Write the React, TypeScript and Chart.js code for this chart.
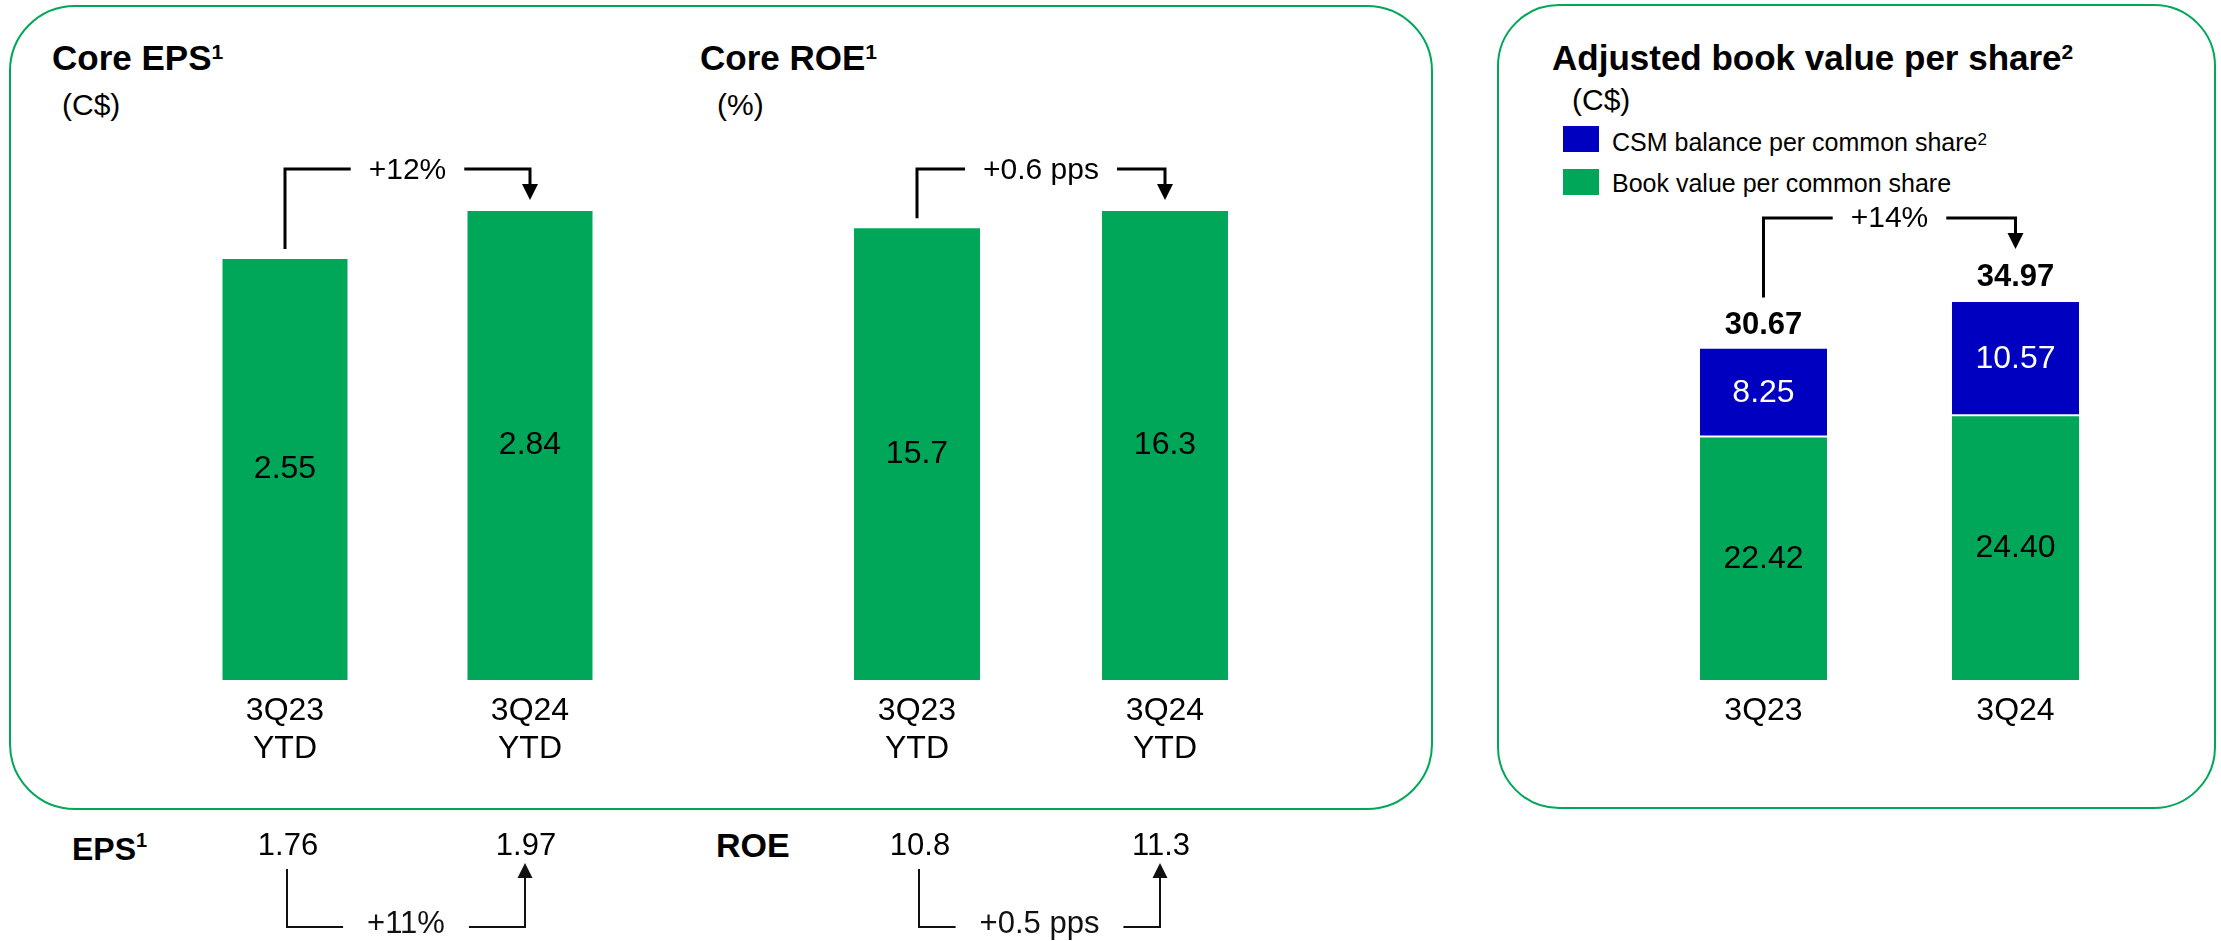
import React, { useEffect, useRef } from 'react';
import Chart from 'chart.js/auto';

// ---------- data ----------
const ytdCategories = [['3Q23', 'YTD'], ['3Q24', 'YTD']];
const coreEps = [2.55, 2.84];
const coreRoe = [15.7, 16.3];
const reportedEps = [1.76, 1.97];
const reportedRoe = [10.8, 11.3];
const coreEpsChange = '+12%';
const coreRoeChange = '+0.6 pps';
const epsChange = '+11%';
const roeChange = '+0.5 pps';

const bvpsCategories = ['3Q23', '3Q24'];
const bookValuePerShare = [22.42, 24.4];
const csmPerShare = [8.25, 10.57];
const adjustedBvps = [30.67, 34.97];
const bvpsChange = '+14%';
const seriesNames = ['CSM balance per common share', 'Book value per common share'];

// ---------- style ----------
const FONT = '"Liberation Sans", Arial, Helvetica, sans-serif';
const GREEN = '#00A758';
const BLUE = '#0000C1';
const W = 2221;
const H = 941;
const PLOT_TOP = 180;
const PLOT_BOTTOM = 680;
const AXIS_H = 90;

type Bracket = {
  x1: number; y1: number; x2: number; y2: number; yLine: number;
  text: string; textDy: number; lw: number; color: string; gap: number;
  head: number; headW: number; font: string; textDx?: number;
};

function drawBracket(ctx: CanvasRenderingContext2D, o: Bracket) {
  ctx.save();
  ctx.font = o.font;
  const tw = ctx.measureText(o.text).width;
  const cx = (o.x1 + o.x2) / 2 + (o.textDx || 0);
  const dir = o.y2 > o.yLine ? 1 : -1;
  ctx.strokeStyle = o.color;
  ctx.lineWidth = o.lw;
  ctx.lineJoin = 'miter';
  ctx.lineCap = 'butt';
  ctx.beginPath();
  ctx.moveTo(o.x1, o.y1);
  ctx.lineTo(o.x1, o.yLine);
  ctx.lineTo(cx - tw / 2 - o.gap, o.yLine);
  ctx.moveTo(cx + tw / 2 + o.gap, o.yLine);
  ctx.lineTo(o.x2, o.yLine);
  ctx.lineTo(o.x2, o.y2 - dir * o.head + dir);
  ctx.stroke();
  ctx.fillStyle = o.color;
  ctx.beginPath();
  ctx.moveTo(o.x2, o.y2);
  ctx.lineTo(o.x2 - o.headW / 2, o.y2 - dir * o.head);
  ctx.lineTo(o.x2 + o.headW / 2, o.y2 - dir * o.head);
  ctx.closePath();
  ctx.fill();
  ctx.textAlign = 'center';
  ctx.textBaseline = 'middle';
  ctx.fillText(o.text, cx, o.yLine + o.textDy);
  ctx.restore();
}

function drawBarValues(chart: any, di: number, color: string, digits: number) {
  const ctx = chart.ctx as CanvasRenderingContext2D;
  const meta = chart.getDatasetMeta(di);
  const data = chart.data.datasets[di].data as number[];
  ctx.save();
  ctx.font = `32px ${FONT}`;
  ctx.fillStyle = color;
  ctx.textAlign = 'center';
  ctx.textBaseline = 'middle';
  meta.data.forEach((bar: any, i: number) => {
    const p = bar.getProps(['x', 'y', 'base'], true);
    ctx.fillText(data[i].toFixed(digits), p.x, (p.y + p.base) / 2);
  });
  ctx.restore();
}

const topStyle = {
  lw: 3, color: '#000', gap: 18, head: 16, headW: 16, font: `30px ${FONT}`,
};

function drawBottomRow(ctx: CanvasRenderingContext2D, x1: number, x2: number, values: string[], change: string) {
  ctx.save();
  ctx.font = `31px ${FONT}`;
  ctx.fillStyle = '#000';
  ctx.textAlign = 'center';
  ctx.textBaseline = 'middle';
  ctx.fillText(values[0], x1 + 3, 846);
  ctx.fillText(values[1], x2 - 4, 846);
  ctx.restore();
  drawBracket(ctx, {
    x1: x1 + 2, y1: 869, x2: x2 - 5, y2: 863, yLine: 927,
    text: change, textDy: -3, lw: 2, color: '#111', gap: 24, head: 15, headW: 15,
    font: `31px ${FONT}`,
  });
}

function baseConfig(labels: any[], datasets: any[], yMax: number, left: number, width: number, plugin: any): any {
  return {
    type: 'bar',
    data: { labels, datasets },
    options: {
      responsive: false,
      animation: false,
      devicePixelRatio: 1,
      events: [],
      layout: {
        padding: { left, right: W - left - width, top: PLOT_TOP, bottom: H - PLOT_BOTTOM - AXIS_H },
      },
      plugins: { legend: { display: false }, tooltip: { enabled: false }, title: { display: false } },
      scales: {
        x: {
          stacked: true,
          grid: { display: false, drawTicks: false },
          border: { display: false },
          ticks: {
            color: '#000',
            font: { family: FONT, size: 32, lineHeight: 1.2 },
            padding: 12,
            maxRotation: 0,
            minRotation: 0,
            autoSkip: false,
          },
          afterFit: (s: any) => { s.height = AXIS_H; },
        },
        y: { stacked: true, display: false, min: 0, max: yMax },
      },
    },
    plugins: [plugin],
  };
}

const epsPlugin = {
  id: 'epsDecor',
  afterDatasetsDraw(chart: any) {
    const ctx = chart.ctx as CanvasRenderingContext2D;
    drawBarValues(chart, 0, '#000', 2);
    const xs = chart.scales.x, ys = chart.scales.y;
    const x1 = xs.getPixelForValue(0), x2 = xs.getPixelForValue(1);
    const t1 = ys.getPixelForValue(coreEps[0]), t2 = ys.getPixelForValue(coreEps[1]);
    drawBracket(ctx, { x1, y1: t1 - 10, x2, y2: t2 - 11, yLine: Math.min(t1, t2) - 42, text: coreEpsChange, textDy: 2, ...topStyle });
    drawBottomRow(ctx, x1, x2, reportedEps.map((v) => v.toFixed(2)), epsChange);
  },
};

const roePlugin = {
  id: 'roeDecor',
  afterDatasetsDraw(chart: any) {
    const ctx = chart.ctx as CanvasRenderingContext2D;
    drawBarValues(chart, 0, '#000', 1);
    const xs = chart.scales.x, ys = chart.scales.y;
    const x1 = xs.getPixelForValue(0), x2 = xs.getPixelForValue(1);
    const t1 = ys.getPixelForValue(coreRoe[0]), t2 = ys.getPixelForValue(coreRoe[1]);
    drawBracket(ctx, { x1, y1: t1 - 10, x2, y2: t2 - 11, yLine: Math.min(t1, t2) - 42, text: coreRoeChange, textDy: 2, ...topStyle });
    drawBottomRow(ctx, x1, x2, reportedRoe.map((v) => v.toFixed(1)), roeChange);
  },
};

const bvPlugin = {
  id: 'bvDecor',
  afterDatasetsDraw(chart: any) {
    const ctx = chart.ctx as CanvasRenderingContext2D;
    drawBarValues(chart, 0, '#000', 2);
    drawBarValues(chart, 1, '#fff', 2);
    const xs = chart.scales.x, ys = chart.scales.y;
    const x1 = xs.getPixelForValue(0), x2 = xs.getPixelForValue(1);
    const t1 = ys.getPixelForValue(adjustedBvps[0]), t2 = ys.getPixelForValue(adjustedBvps[1]);
    ctx.save();
    ctx.font = `bold 31px ${FONT}`;
    ctx.fillStyle = '#000';
    ctx.textAlign = 'center';
    ctx.textBaseline = 'middle';
    ctx.fillText(adjustedBvps[0].toFixed(2), x1, t1 - 23);
    ctx.fillText(adjustedBvps[1].toFixed(2), x2, t2 - 24);
    ctx.restore();
    drawBracket(ctx, { x1, y1: t1 - 51, x2, y2: t2 - 53, yLine: t2 - 84, text: bvpsChange, textDy: 1, ...topStyle });
  },
};

function epsConfig() {
  return baseConfig(ytdCategories, [
    { label: 'Core EPS', data: coreEps, backgroundColor: GREEN, borderWidth: 0, barPercentage: 1, categoryPercentage: 0.5102 },
  ], 3.028, 162.5, 490, epsPlugin);
}

function roeConfig() {
  return baseConfig(ytdCategories, [
    { label: 'Core ROE', data: coreRoe, backgroundColor: GREEN, borderWidth: 0, barPercentage: 1, categoryPercentage: 0.508 },
  ], 17.38, 793, 496, roePlugin);
}

function bvConfig() {
  return baseConfig(bvpsCategories, [
    { label: seriesNames[1], data: bookValuePerShare, backgroundColor: GREEN, borderWidth: 0, barPercentage: 1, categoryPercentage: 0.504 },
    {
      label: seriesNames[0], data: csmPerShare, backgroundColor: BLUE,
      borderColor: '#fff', borderWidth: { top: 0, left: 0, right: 0, bottom: 2 }, borderSkipped: false,
      barPercentage: 1, categoryPercentage: 0.504,
    },
  ], 46.25, 1637.5, 504, bvPlugin);
}

// ---------- html text helpers ----------
function Txt(props: { x: number; baseline: number; size: number; bold?: boolean; children: any }) {
  const { x, baseline, size, bold, children } = props;
  return (
    <div
      style={{
        position: 'absolute', left: x, top: baseline - 0.8465 * size,
        fontFamily: FONT, fontSize: size, fontWeight: bold ? 700 : 400,
        lineHeight: 1, whiteSpace: 'nowrap', color: '#000',
      }}
    >
      {children}
    </div>
  );
}

function Sup(props: { size: number; raise: number; children: any }) {
  return (
    <span style={{ fontSize: props.size, verticalAlign: props.raise, lineHeight: 1 }}>{props.children}</span>
  );
}

export default function App() {
  const epsRef = useRef<HTMLCanvasElement>(null);
  const roeRef = useRef<HTMLCanvasElement>(null);
  const bvRef = useRef<HTMLCanvasElement>(null);

  useEffect(() => {
    const charts = [
      new Chart(epsRef.current as HTMLCanvasElement, epsConfig()),
      new Chart(roeRef.current as HTMLCanvasElement, roeConfig()),
      new Chart(bvRef.current as HTMLCanvasElement, bvConfig()),
    ];
    return () => charts.forEach((c) => c.destroy());
  }, []);

  const canvasStyle: React.CSSProperties = {
    position: 'absolute', left: 0, top: 0, width: W, height: H, pointerEvents: 'none',
  };

  return (
    <div style={{ position: 'absolute', left: 0, top: 0, width: W, height: H, overflow: 'hidden', background: '#fff' }}>
      <div style={{ position: 'absolute', left: 9, top: 5, width: 1424, height: 805, border: `2px solid ${GREEN}`, borderRadius: 66, boxSizing: 'border-box' }} />
      <div style={{ position: 'absolute', left: 1497, top: 4, width: 719, height: 805, border: `2px solid ${GREEN}`, borderRadius: 62, boxSizing: 'border-box' }} />

      <Txt x={52} baseline={70} size={35} bold>Core EPS<Sup size={21} raise={11}>1</Sup></Txt>
      <Txt x={62} baseline={115} size={30}>(C$)</Txt>
      <Txt x={700} baseline={70} size={35} bold>Core ROE<Sup size={21} raise={11}>1</Sup></Txt>
      <Txt x={717} baseline={115} size={30}>(%)</Txt>

      <Txt x={1552} baseline={70} size={35} bold>Adjusted book value per share<Sup size={21} raise={11}>2</Sup></Txt>
      <Txt x={1572} baseline={110} size={30}>(C$)</Txt>

      <div style={{ position: 'absolute', left: 1563, top: 126, width: 36, height: 26, background: BLUE }} />
      <Txt x={1612} baseline={151} size={25}>{seriesNames[0]}<Sup size={17} raise={6}>2</Sup></Txt>
      <div style={{ position: 'absolute', left: 1563, top: 169, width: 36, height: 26, background: GREEN }} />
      <Txt x={1612} baseline={192} size={25}>{seriesNames[1]}</Txt>

      <Txt x={72} baseline={857} size={32} bold>EPS<Sup size={20} raise={13}>1</Sup></Txt>
      <Txt x={716} baseline={857} size={34} bold>ROE</Txt>

      <canvas ref={epsRef} width={W} height={H} style={canvasStyle} />
      <canvas ref={roeRef} width={W} height={H} style={canvasStyle} />
      <canvas ref={bvRef} width={W} height={H} style={canvasStyle} />
    </div>
  );
}
